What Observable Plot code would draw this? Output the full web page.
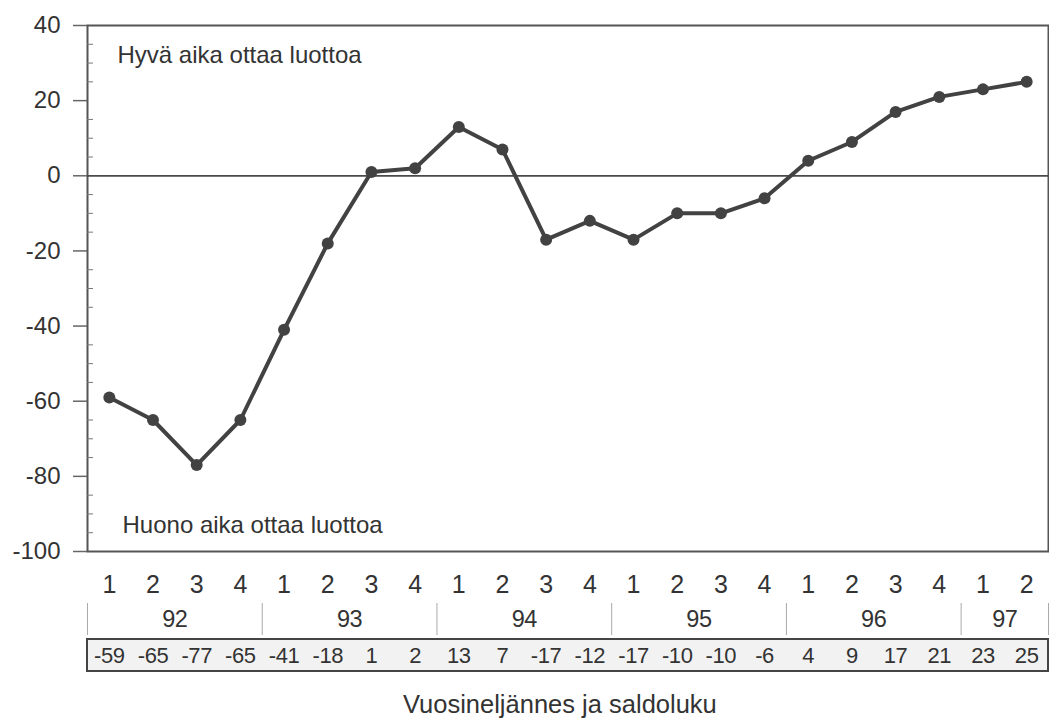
<!DOCTYPE html>
<html><head><meta charset="utf-8">
<script src="https://cdn.jsdelivr.net/npm/d3@7"></script>
<script src="https://cdn.jsdelivr.net/npm/@observablehq/plot@0.6"></script>
<style>
body{margin:0;background:#fff;}
#wrap{position:relative;width:1049px;height:727px;font-family:"Liberation Sans",Arial,sans-serif;color:#333}
#wrap svg{display:block}
#cap{position:absolute;left:403px;top:692px;font-size:25.5px;line-height:25.5px;white-space:nowrap}
#table text{letter-spacing:-0.4px}
</style></head><body><div id="wrap"><div id="chart"></div><div id="table"></div><div id="cap">Vuosineljännes ja saldoluku</div></div>
<script>
const quarters = ["1","2","3","4","1","2","3","4","1","2","3","4","1","2","3","4","1","2","3","4","1","2"];
const yearOf = ["92","92","92","92","93","93","93","93","94","94","94","94","95","95","95","95","96","96","96","96","97","97"];
const values = [-59,-65,-77,-65,-41,-18,1,2,13,7,-17,-12,-17,-10,-10,-6,4,9,17,21,23,25];
const years = ["92","93","94","95","96","97"];
const yTicks = [40,20,0,-20,-40,-60,-80,-100];
const notes = ["Hyvä aika ottaa luottoa","Huono aika ottaa luottoa"];

const ink = "#333";
const lineInk = "#424242";
const font = "Liberation Sans, Arial, sans-serif";
const idx = values.map((_, i) => i);
const xDomain = [-0.5, values.length - 0.5];
const minor = d3.range(-95, 40, 5).filter(v => v % 20 !== 0);

const chart = Plot.plot({
  width: 1049, height: 596, marginTop: 25, marginBottom: 45, marginLeft: 87, marginRight: 1,
  style: {fontFamily: font, color: ink, background: "#fff", overflow: "visible"},
  x: {domain: xDomain},
  y: {domain: [-100, 40]},
  marks: [
    Plot.frame({stroke: "#555", strokeWidth: 2}),
    Plot.ruleY([0], {stroke: "#4a4a4a", strokeWidth: 1.8}),
    Plot.axisY(yTicks, {tickSize: 14, tickPadding: 13, fontSize: 24, fill: ink, stroke: "#666", strokeWidth: 1.5, label: null, tickFormat: d => String(d)}),
    Plot.axisY(minor, {tickSize: -6, text: null, stroke: "#777", label: null}),
    Plot.axisX(idx, {tickSize: 0, tickPadding: 24, fontSize: 25, fill: ink, label: null, tickFormat: i => quarters[i]}),
    Plot.line(idx, {x: i => i, y: i => values[i], stroke: lineInk, strokeWidth: 4}),
    Plot.dot(idx, {x: i => i, y: i => values[i], r: 6, fill: lineInk}),
    Plot.text([notes[0]], {frameAnchor: "top-left", dx: 30, dy: 37, textAnchor: "start", lineAnchor: "bottom", fontSize: 24, fill: ink}),
    Plot.text([notes[1]], {frameAnchor: "bottom-left", dx: 35, dy: -19, textAnchor: "start", lineAnchor: "bottom", fontSize: 24, fill: ink})
  ]
});
document.getElementById("chart").appendChild(chart);

const yearSpans = years.map(y => {
  const ii = idx.filter(i => yearOf[i] === y);
  return {year: y, x1: ii[0] - 0.5, x2: ii[ii.length - 1] + 0.5};
});
const boundaries = [xDomain[0], ...yearSpans.map(d => d.x2)];

const table = Plot.plot({
  width: 1049, height: 84, marginTop: 0, marginBottom: 0, marginLeft: 87, marginRight: 1,
  style: {fontFamily: font, color: ink, background: "#fff", overflow: "visible"},
  x: {domain: xDomain, axis: null},
  y: {type: "band", domain: ["year", "value"], range: [6, 75], paddingInner: 0.12, paddingOuter: 0, axis: null},
  marks: [
    Plot.barX([0], {x1: xDomain[0], x2: xDomain[1], y: () => "value", fill: "#f2f2f2", stroke: "#444", strokeWidth: 2}),
    Plot.tickX(boundaries, {x: d => d, y: () => "year", stroke: "#aaa", strokeWidth: 1}),
    Plot.text(yearSpans, {x: d => (d.x1 + d.x2) / 2, y: () => "year", text: "year", fontSize: 23.5, fill: ink}),
    Plot.text(idx, {x: i => i, y: () => "value", text: i => String(values[i]), fontSize: 22, fill: ink})
  ]
});
document.getElementById("table").appendChild(table);
</script></body></html>
